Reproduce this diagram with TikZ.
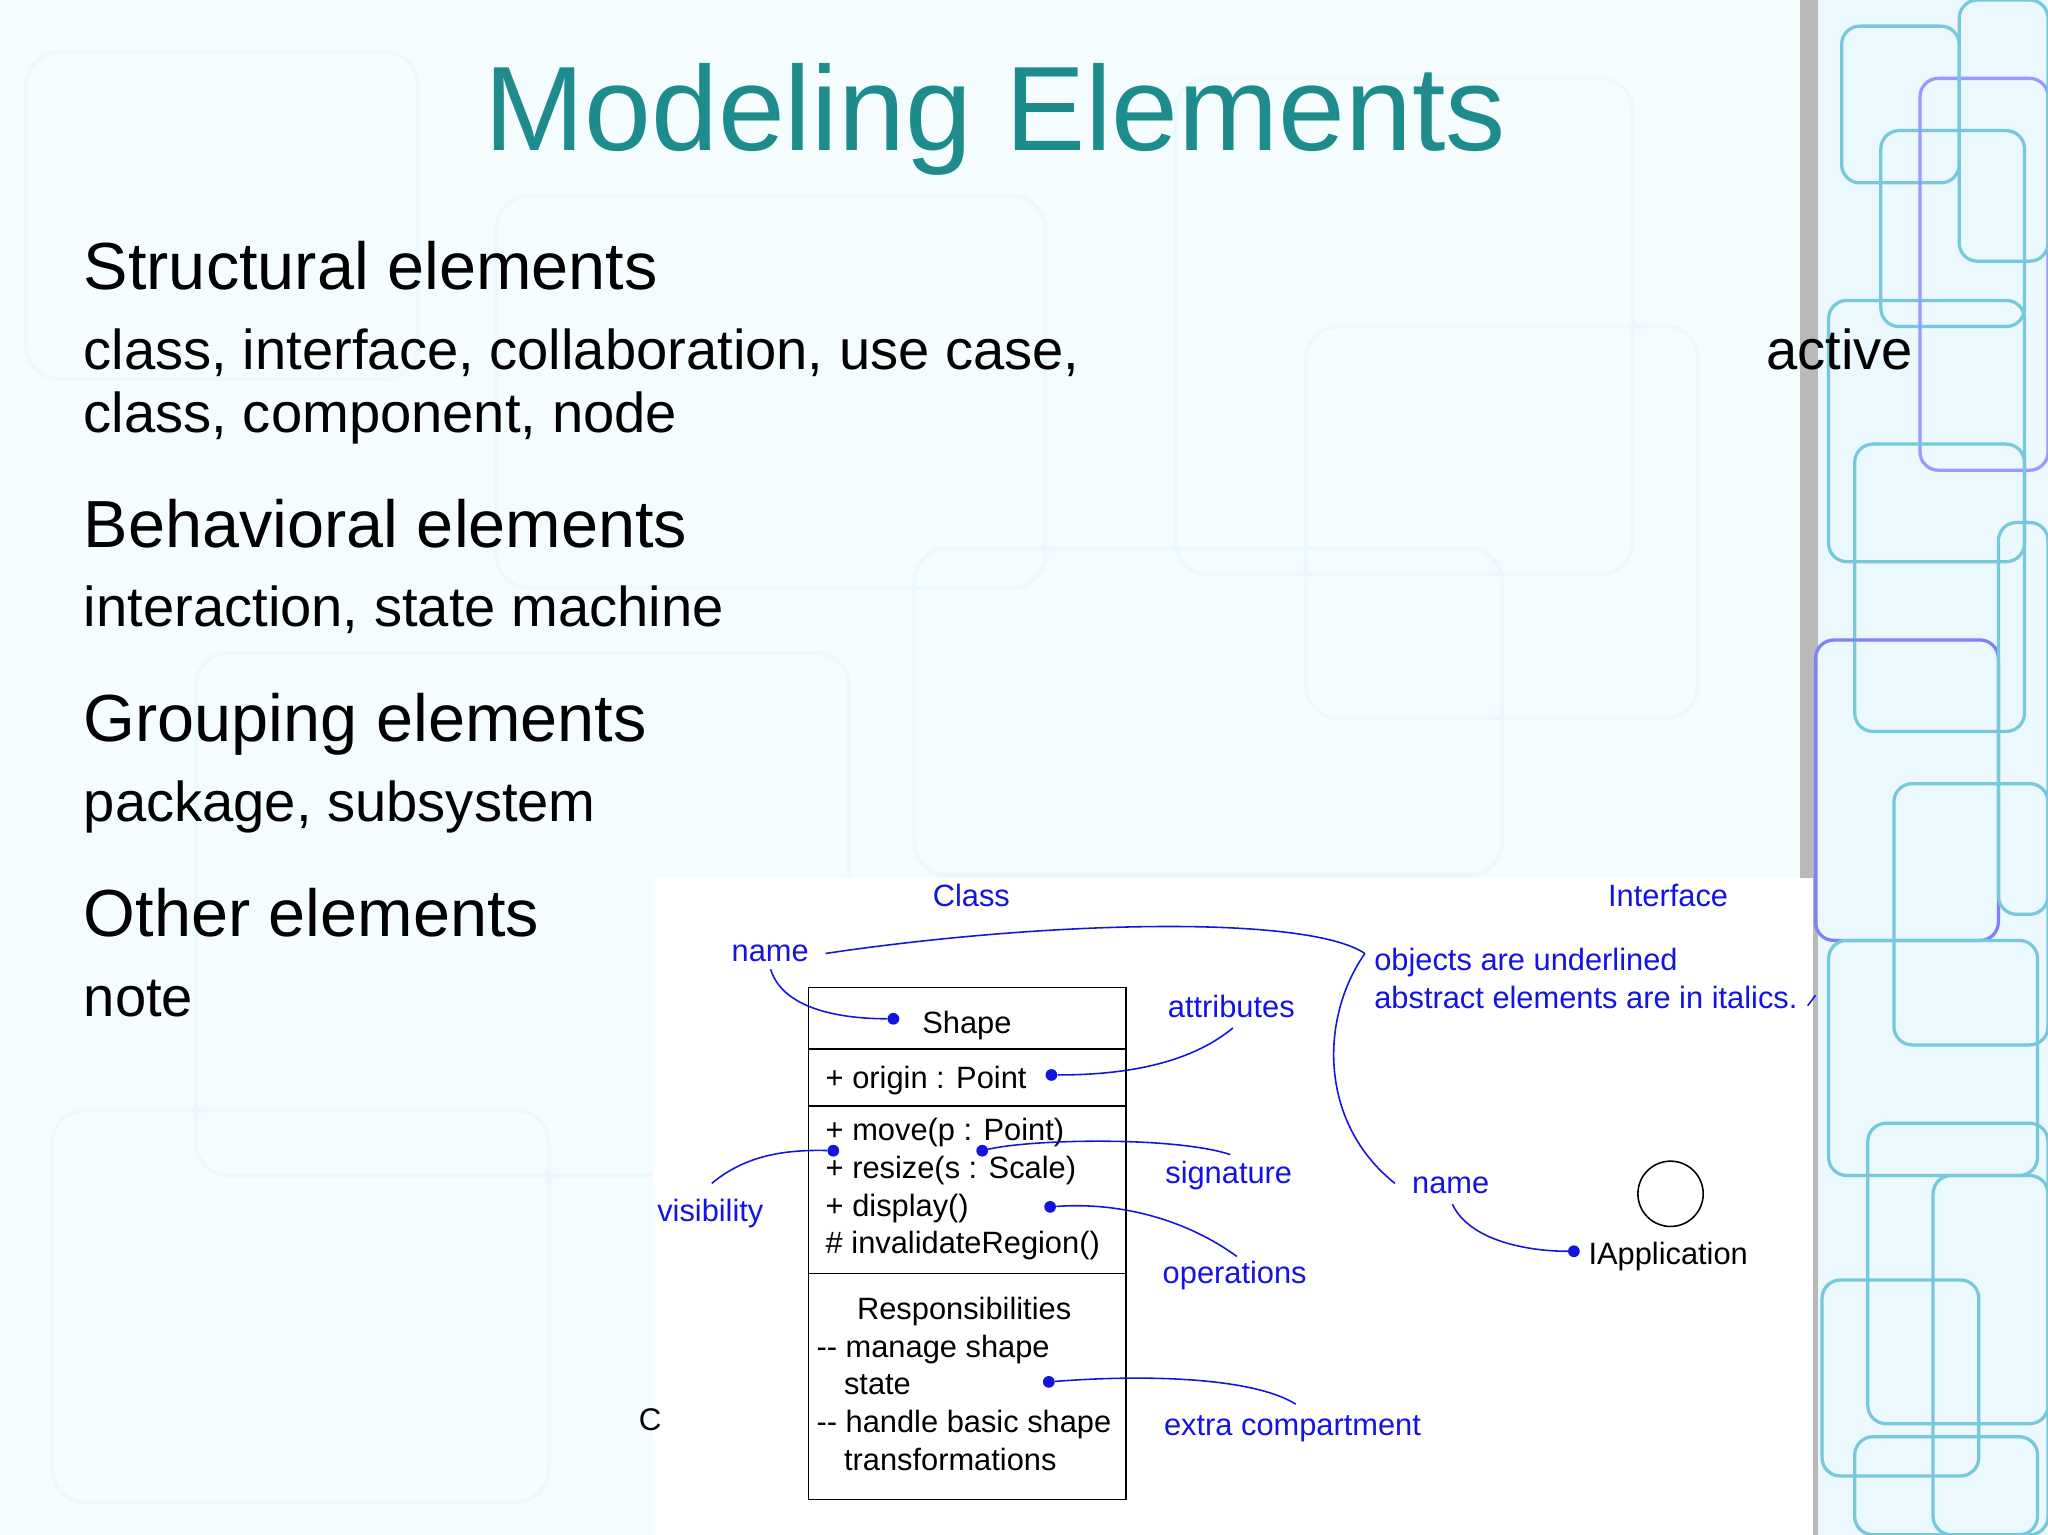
\documentclass[tikz,border=0pt]{standalone}
\usepackage{fontspec}
\setmainfont{Liberation Sans}
\begin{document}
\begin{tikzpicture}[x=1pt,y=-1pt,
  blu/.style={draw=uml,line width=1.2pt},
  dot/.style={circle,fill=uml,inner sep=0pt,minimum size=9pt},
  bl/.style={text=uml,font=\fontsize{23.6}{27}\selectfont,anchor=base west,inner sep=0pt},
  bk/.style={text=black,font=\fontsize{23.6}{27}\selectfont,anchor=base west,inner sep=0pt},
  hd/.style={font=\fontsize{51}{58}\selectfont,anchor=base west,inner sep=0pt},
  sb/.style={font=\fontsize{43}{49}\selectfont,anchor=base west,inner sep=0pt}]
\definecolor{uml}{RGB}{20,20,225}
\definecolor{teal1}{RGB}{30,140,140}
\definecolor{cy}{RGB}{120,200,220}
\useasboundingbox (0,0) rectangle (1568,1175);
\fill[white!96!cyan] (0,0) rectangle (1568,1175);
% faint background pattern
\foreach \x/\y/\w/\h in {20/40/300/250,380/150/420/300,900/60/350/380,150/500/500/400,700/420/450/250,40/850/380/300,1000/250/300/300}
  \draw[cyan!8,line width=3pt,rounded corners=25pt] (\x,\y) rectangle ++(\w,\h);
% right strip
\fill[gray!55] (1378,0) rectangle (1400,1175);
\fill[white!92!cyan] (1392,0) rectangle (1568,1175);
\foreach \x/\y/\w/\h/\c in {1410/20/90/120/cy,1440/100/110/150/cy,1400/230/150/200/cy,1470/60/98/300/blue!40,1420/340/130/220/cy,1390/490/140/230/blue!50,1450/600/118/200/cy,1400/720/160/180/cy,1430/860/138/230/cy,1395/980/120/150/cy,1480/900/88/275/cy,1420/1100/140/75/cy,1500/0/68/200/cy,1530/400/38/300/cy}
  \draw[\c,line width=2.5pt,rounded corners=14pt] (\x,\y) rectangle ++(\w,\h);
% diagram panel
\fill[white] (500,672) rectangle (1388,1175);
% texts
\node[font=\fontsize{92}{100}\selectfont,text=teal1,anchor=base,inner sep=0pt] (title) at (762,115) {Modeling Elements};
\node[hd] (s1) at (64,222) {Structural elements};
\node[sb] (s1a) at (64,283) {class, interface, collaboration, use case,};
\node[sb] (s1b) at (1352,283) {active};
\node[sb] (s1c) at (64,331) {class, component, node};
\node[hd] (s2) at (64,419) {Behavioral elements};
\node[sb] (s2a) at (64,480) {interaction, state machine};
\node[hd] (s3) at (64,568) {Grouping elements};
\node[sb] (s3a) at (64,629) {package, subsystem};
\node[hd] (s4) at (64,717) {Other elements};
\node[sb] (s4a) at (64,778) {note};
\node[font=\fontsize{24}{28}\selectfont,anchor=base west,inner sep=0pt] (cc) at (489,1095) {C};
% class box
\draw[line width=1.3pt] (619,756) rectangle (862,1148);
\foreach \y in {803,847,975} \draw[line width=1.3pt] (619,\y) -- (862,\y);
\node[bk] (shape) at (706,791) {Shape};
\node[bk] (t1) at (632,833) {+ origin : Point};
\node[bk] (t2) at (632,873) {+ move(p : Point)};
\node[bk] (t3) at (632,902) {+ resize(s : Scale)};
\node[bk] (t4) at (632,931) {+ display()};
\node[bk] (t5) at (632,960) {\# invalidateRegion()};
\node[bk] (t6) at (656,1010) {Responsibilities};
\node[bk] (t7) at (625,1039) {{-}{-} manage shape};
\node[bk] (t8) at (646,1068) {state};
\node[bk] (t9) at (625,1097) {{-}{-} handle basic shape};
\node[bk] (t10) at (646,1126) {transformations};
\node[draw,circle,line width=1.2pt,minimum size=50pt,inner sep=0pt] (circ) at (1279,914) {};
\node[bk] (iapp) at (1216,968) {IApplication};
% blue labels
\node[bl] (lclass) at (714,694) {Class};
\node[bl] (linter) at (1231,694) {Interface};
\node[bl] (lname) at (560,736) {name};
\node[bl] (lattr) at (894,779) {attributes};
\node[bl] (lobj) at (1052,743) {objects are underlined};
\node[bl] (labs) at (1052,772) {abstract elements are in italics.};
\node[bl] (lsig) at (892,906) {signature};
\node[bl] (lvis) at (503,935) {visibility};
\node[bl] (lname2) at (1081,914) {name};
\node[bl] (lops) at (890,983) {operations};
\node[bl] (lext) at (891,1099) {extra compartment};
% dots
\node[dot] (d1) at (684,780) {};
\node[dot] (d2) at (805,823) {};
\node[dot] (d3) at (752,881) {};
\node[dot] (d4) at (638,881) {};
\node[dot] (d5) at (804,924) {};
\node[dot] (d6) at (1205,958) {};
\node[dot] (d7) at (803,1058) {};
\coordinate (j) at (1045,730);
% connectors
\draw[blu] (632,730) .. controls (800,705) and (1000,700) .. (j);
\draw[blu] (j) .. controls (1010,780) and (1010,860) .. (1068,906);
\draw[blu] (590,742) .. controls (600,775) and (650,780) .. (d1);
\draw[blu] (944,787) .. controls (910,815) and (860,823) .. (d2);
\draw[blu] (942,884) .. controls (900,870) and (790,872) .. (d3);
\draw[blu] (545,906) .. controls (570,885) and (600,880) .. (d4);
\draw[blu] (947,962) .. controls (910,935) and (860,920) .. (d5);
\draw[blu] (1112,922) .. controls (1125,950) and (1170,958) .. (d6);
\draw[blu] (992,1075) .. controls (960,1055) and (880,1052) .. (d7);
\draw[blu] (1384,770) -- (1390,762);
\end{tikzpicture}
\end{document}
